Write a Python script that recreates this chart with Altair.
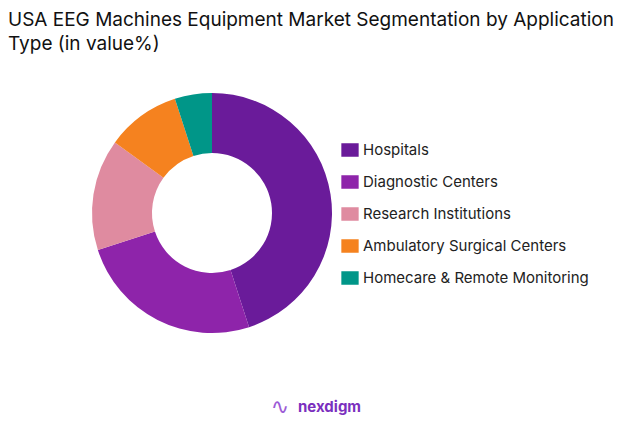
import altair as alt
import pandas as pd

categories = ["Hospitals", "Diagnostic Centers", "Research Institutions",
              "Ambulatory Surgical Centers", "Homecare & Remote Monitoring"]
values = [45, 25, 15, 10, 5]
colors = ["#6A1B9A", "#8E24AA", "#DF8BA0", "#F5821F", "#009688"]

df = pd.DataFrame({"category": categories, "value": values, "order": list(range(len(values)))})

FONT = "Inter"

donut = alt.Chart(df).mark_arc(innerRadius=60, outerRadius=120).encode(
    theta=alt.Theta("value:Q", stack=True),
    order=alt.Order("order:Q"),
    color=alt.Color("category:N", sort=categories,
                    scale=alt.Scale(domain=categories, range=colors),
                    legend=alt.Legend(title=None, orient="none", legendX=333, legendY=85,
                                      symbolType="M-1,-0.78H1V0.78H-1Z", symbolSize=300,
                                      symbolStrokeWidth=0, labelFontSize=15,
                                      labelFont=FONT, labelColor="#222222", labelLimit=0,
                                      rowPadding=15, labelOffset=4)),
    x=alt.value(204),
    y=alt.value(157),
)

logo = alt.Chart(pd.DataFrame({"t": ["nexdigm"]})).mark_text(
    fontSize=15, fontWeight="bold", font=FONT, color="#7B2FBE", align="left", baseline="middle"
).encode(x=alt.value(290), y=alt.value(351), text="t:N")

icon = alt.Chart(pd.DataFrame({"t": ["∿"]})).mark_text(
    fontSize=22, font="DejaVu Sans", color="#9C5BD6", align="center", baseline="middle"
).encode(x=alt.value(272), y=alt.value(351), text="t:N")

chart = alt.layer(donut, logo, icon).properties(
    width=622, height=367,
    padding={"top": 3, "left": 0, "right": 0, "bottom": 0},
    title=alt.Title(["USA EEG Machines Equipment Market Segmentation by Application", "\u2002Type (in value%)"],
                    anchor="start", fontSize=19, font=FONT, fontWeight="normal",
                    color="#111111", lineHeight=24, offset=2),
).configure_view(stroke=None)

chart.save("out.html", embed_options={"renderer": "svg", "actions": False})
